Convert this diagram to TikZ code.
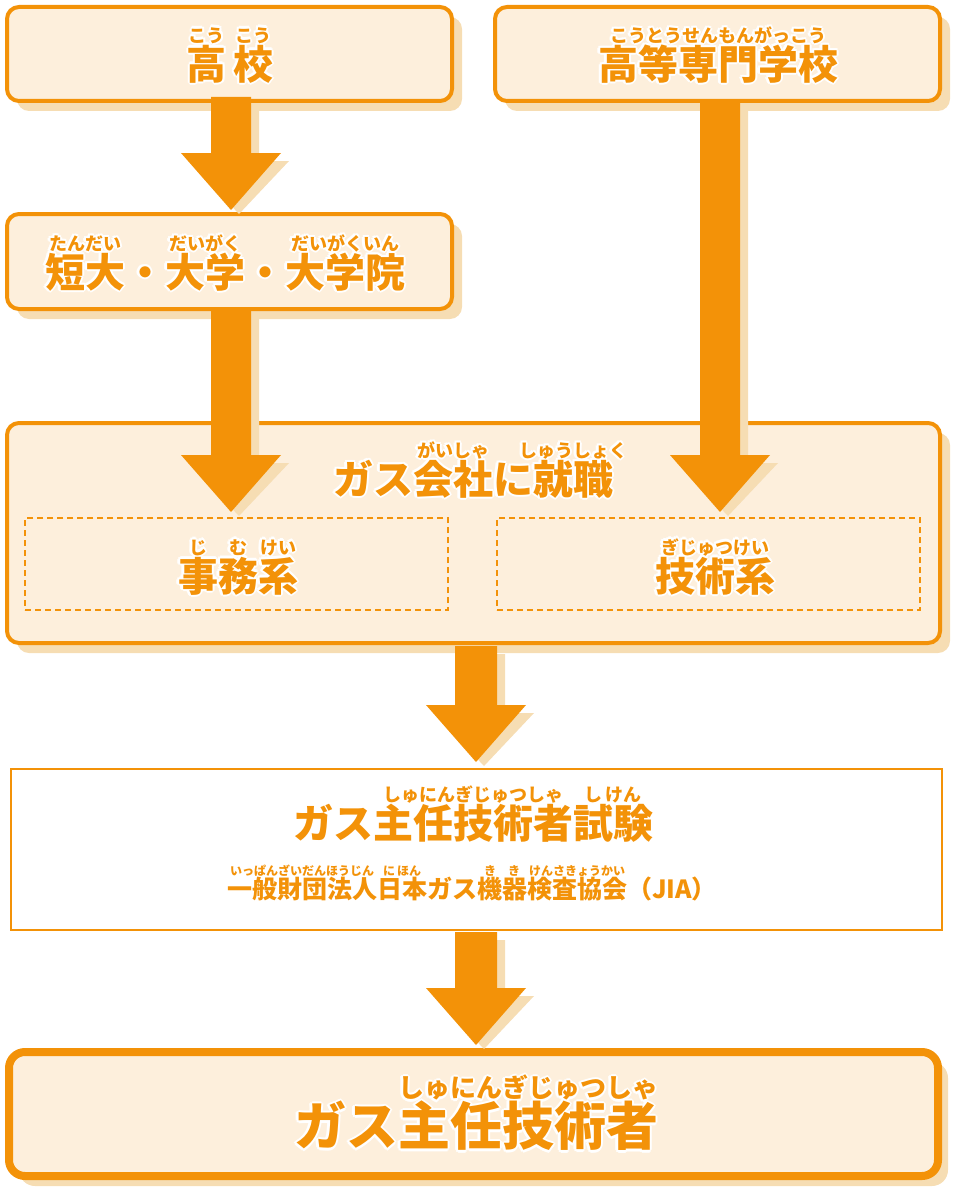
\documentclass[tikz,border=0pt]{standalone}
\usepackage{fontspec}
\setmainfont{Noto Sans CJK JP}
\usetikzlibrary{shadows}
\definecolor{org}{HTML}{F39208}
\definecolor{cream}{HTML}{FDEFDC}
\definecolor{shadowc}{HTML}{F6DDB3}
\newsavebox\rbbox
\def\rbfont{\fontsize{18}{18}\selectfont}
\def\rbraise{37pt}
\newcommand\rb[2]{\sbox\rbbox{#1}\rlap{\raisebox{\rbraise}[0pt][0pt]{\makebox[\wd\rbbox]{\rbfont #2}}}\usebox\rbbox}
\newcommand\htext[4]{%
  \foreach \a in {0,45,...,315}{\node[font=#3,text=white,inner sep=0pt] at ([shift={(\a:2.2)}]#2) {#4};}
  \node[font=#3,text=org,inner sep=0pt] (#1) at (#2) {#4};}
\tikzset{
  box/.style={draw=org,fill=cream,line width=4pt,rounded corners=12pt,
    drop shadow={shadow xshift=10pt,shadow yshift=-10pt,fill=shadowc,opacity=1}},
  dbox/.style={draw=org,fill=cream,line width=2pt,dash pattern=on 6pt off 4pt},
}
\newcommand\bigarrow[5]{% x, ytop, ytip, half shaft, half head
  \fill[shadowc] (#1-#4+8,#2+8) -- (#1+#4+8,#2+8) -- (#1+#4+8,#3-57+8) -- (#1+#5+8,#3-57+8) -- (#1+8,#3+4) -- (#1-#5+8,#3-57+8) -- (#1-#4+8,#3-57+8) -- cycle;
  \fill[org] (#1-#4,#2) -- (#1+#4,#2) -- (#1+#4,#3-57) -- (#1+#5,#3-57) -- (#1,#3) -- (#1-#5,#3-57) -- (#1-#4,#3-57) -- cycle;}
\begin{document}
\begin{tikzpicture}[x=1pt,y=-1pt]
\useasboundingbox (0,0) rectangle (960,1196);
% boxes
\node[box,minimum width=445pt,minimum height=94pt] (b1) at (229.5,54) {};
\node[box,minimum width=445pt,minimum height=94pt] (b2) at (717.5,54) {};
\node[box,minimum width=445pt,minimum height=95pt] (b3) at (229.5,261.5) {};
\node[box,minimum width=933pt,minimum height=220pt] (b4) at (473.5,533) {};
\node[dbox,minimum width=423pt,minimum height=92pt] (b5) at (236.5,564) {};
\node[dbox,minimum width=423pt,minimum height=92pt] (b6) at (708.5,564) {};
\node[draw=org,fill=white,line width=2pt,minimum width=931pt,minimum height=161pt] (b7) at (476.5,849.5) {};
\node[box,line width=8pt,rounded corners=16pt,minimum width=929pt,minimum height=124pt] (b8) at (473.5,1114) {};
% arrows
\bigarrow{231}{97}{210}{20}{50}
\bigarrow{231}{309}{512}{20}{50}
\bigarrow{720}{101}{512}{20}{50}
\bigarrow{476}{646}{762}{21}{50}
\bigarrow{476}{932}{1045}{21}{50}
% texts
\htext{t1}{230,64}{\fontsize{40}{42}\selectfont\bfseries}{\rb{高}{こう}\,\rb{校}{こう}}
\htext{t2}{718,64}{\fontsize{40}{42}\selectfont\bfseries}{\rb{高等専門学校}{こうとうせんもんがっこう}}
\htext{t3}{225,272}{\fontsize{40}{42}\selectfont\bfseries}{\rb{短大}{たんだい}・\rb{大学}{だいがく}・\rb{大学院}{だいがくいん}}
\htext{t4}{473,479}{\fontsize{40}{42}\selectfont\bfseries}{ガス\rb{会社}{がいしゃ}に\rb{就職}{しゅうしょく}}
\htext{t5}{238,576}{\fontsize{40}{42}\selectfont\bfseries}{\rb{事}{じ}\rb{務}{む}\rb{系}{けい}}
\htext{t6}{715,576}{\fontsize{40}{42}\selectfont\bfseries}{\rb{技術系}{ぎじゅつけい}}
\htext{t7}{473,823}{\fontsize{40}{42}\selectfont\bfseries}{ガス\rb{主任技術者}{しゅにんぎじゅつしゃ}\rb{試験}{し\,けん}}
\htext{t8}{472,889}{\def\rbfont{\fontsize{12}{12}\selectfont}\def\rbraise{23pt}\fontsize{25}{27}\selectfont\bfseries}{\rb{一般財団法人}{いっぱんざいだんほうじん}\rb{日本}{に\,ほん}ガス\rb{機器}{き\quad き}\rb{検査協会}{けんさきょうかい}（JIA）}
\htext{t9}{476,1126}{\def\rbfont{\fontsize{26}{26}\selectfont}\def\rbraise{48pt}\fontsize{52}{54}\selectfont\bfseries}{ガス\rb{主任技術者}{しゅにんぎじゅつしゃ}}
\end{tikzpicture}
\end{document}
